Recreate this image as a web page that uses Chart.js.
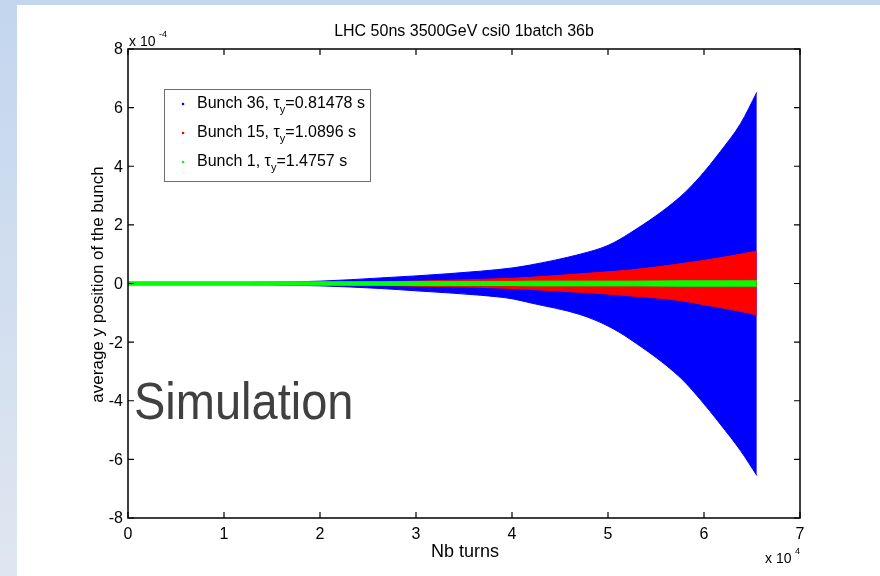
<!DOCTYPE html>
<html>
<head>
<meta charset="utf-8">
<script src="https://cdn.jsdelivr.net/npm/chart.js@4"></script>
<style>
  html, body { margin: 0; padding: 0; background: #ffffff; }
  #wrap { width: 880px; height: 576px; }
</style>
</head>
<body>
<div id="wrap"><canvas id="chart-env" width="880" height="576"></canvas></div>
<script>
var turns = [0, 10000, 20000, 26300, 30000, 36700, 40000, 41900, 47100, 50000, 52300, 57500, 59600, 61700, 63800, 65500];

// average y position, in units of 1e-4
var blueUpper  = [0.02, 0.03, 0.08, 0.19, 0.26, 0.42, 0.53, 0.63, 1.00, 1.30, 1.72, 2.95, 3.65, 4.50, 5.45, 6.52];
var blueLower  = [-0.02, -0.03, -0.08, -0.17, -0.25, -0.40, -0.52, -0.66, -1.06, -1.45, -1.90, -3.20, -3.95, -4.80, -5.70, -6.55];
var redUpper   = [0.03, 0.03, 0.04, 0.06, 0.08, 0.14, 0.18, 0.21, 0.33, 0.40, 0.46, 0.67, 0.77, 0.88, 1.00, 1.11];
var redLower   = [-0.03, -0.03, -0.04, -0.07, -0.09, -0.13, -0.17, -0.20, -0.30, -0.36, -0.42, -0.58, -0.70, -0.82, -0.95, -1.07];
var greenUpper = [0.06, 0.06, 0.06, 0.06, 0.07, 0.07, 0.07, 0.08, 0.08, 0.08, 0.08, 0.09, 0.09, 0.09, 0.09, 0.09];
var greenLower = [-0.06, -0.06, -0.06, -0.06, -0.07, -0.07, -0.07, -0.08, -0.08, -0.08, -0.08, -0.09, -0.09, -0.09, -0.09, -0.09];

var xTicks = [0, 10000, 20000, 30000, 40000, 50000, 60000, 70000];
var xTickLabels = ["0", "1", "2", "3", "4", "5", "6", "7"];
var yTicks = [-8, -6, -4, -2, 0, 2, 4, 6, 8];
var yTickLabels = ["-8", "-6", "-4", "-2", "0", "2", "4", "6", "8"];

var bunches = ["Bunch 36, ", "Bunch 15, ", "Bunch 1, "];
var tauValues = ["=0.81478 s", "=1.0896 s", "=1.4757 s"];
var colors = ["#0000ff", "#ff0000", "#00ff00"];

function pts(ys) {
  return turns.map(function(t, i) { return {x: t, y: ys[i]}; });
}

function band(ys, color, fill, order) {
  return {
    data: pts(ys),
    borderColor: color,
    backgroundColor: color,
    borderWidth: 1,
    pointRadius: 0,
    cubicInterpolationMode: "monotone",
    fill: fill,
    order: order
  };
}

var FONT = '"Liberation Sans", Arial, Helvetica, sans-serif';

var decor = {
  id: "decor",
  beforeDraw: function(chart) {
    var c = chart.ctx;
    c.save();
    var g = c.createLinearGradient(0, 0, 0, 576);
    g.addColorStop(0, "#c3d6ee");
    g.addColorStop(1, "#dfe6f0");
    c.fillStyle = g;
    c.fillRect(0, 0, 880, 576);
    c.fillStyle = "#ffffff";
    c.fillRect(17, 5, 863, 571);
    c.restore();
  },
  afterDraw: function(chart) {
    var c = chart.ctx;
    var a = chart.chartArea;
    var xs = chart.scales.x, ys = chart.scales.y;
    c.save();

    // frame
    c.strokeStyle = "#000000";
    c.lineWidth = 1.5;
    c.strokeRect(a.left, a.top, a.right - a.left, a.bottom - a.top);

    // inward ticks + labels
    c.fillStyle = "#000000";
    c.font = "16px " + FONT;
    c.lineWidth = 1.2;
    c.textAlign = "center";
    c.textBaseline = "top";
    xTicks.forEach(function(v, i) {
      var px = xs.getPixelForValue(v);
      c.beginPath();
      c.moveTo(px, a.bottom); c.lineTo(px, a.bottom - 6);
      c.moveTo(px, a.top); c.lineTo(px, a.top + 6);
      c.stroke();
      c.fillText(xTickLabels[i], px, a.bottom + 9);
    });
    c.textAlign = "right";
    c.textBaseline = "middle";
    yTicks.forEach(function(v, i) {
      var py = ys.getPixelForValue(v);
      c.beginPath();
      c.moveTo(a.left, py); c.lineTo(a.left + 6, py);
      c.moveTo(a.right, py); c.lineTo(a.right - 6, py);
      c.stroke();
      c.fillText(yTickLabels[i], a.left - 5, py + 1);
    });

    // exponents
    c.textAlign = "left";
    c.textBaseline = "alphabetic";
    c.font = "14px " + FONT;
    c.fillText("x 10", a.left + 1, a.top - 3);
    c.fillText("x 10", a.right - 35, a.bottom + 45);
    c.font = "9px " + FONT;
    c.fillText("-4", a.left + 31, a.top - 12);
    c.fillText("4", a.right - 5, a.bottom + 36);

    // title and axis titles
    c.textAlign = "center";
    c.font = "16px " + FONT;
    c.fillText("LHC 50ns 3500GeV csi0 1batch 36b", (a.left + a.right) / 2, 36);
    c.font = "18px " + FONT;
    c.fillText("Nb turns", (a.left + a.right) / 2 + 1, a.bottom + 39);
    c.save();
    c.translate(103, (a.top + a.bottom) / 2 + 1);
    c.rotate(-Math.PI / 2);
    c.font = "17px " + FONT;
    c.fillText("average y position of the bunch", 0, 0);
    c.restore();

    // legend
    c.fillStyle = "#ffffff";
    c.fillRect(164, 89, 206, 92);
    c.strokeStyle = "#6f6f6f";
    c.lineWidth = 1;
    c.strokeRect(164.5, 89.5, 206, 92);
    var rows = [108, 137, 166];
    bunches.forEach(function(b, i) {
      var y = rows[i];
      c.fillStyle = colors[i];
      c.beginPath();
      c.arc(183, y - 4, 1.3, 0, Math.PI * 2);
      c.fill();
      c.fillStyle = "#000000";
      c.font = "16px " + FONT;
      c.textAlign = "left";
      var x = 197;
      c.fillText(b, x, y);
      x += c.measureText(b).width;
      c.fillText("\u03c4", x, y);
      x += c.measureText("\u03c4").width;
      c.font = "11px " + FONT;
      c.fillText("y", x, y + 5);
      x += c.measureText("y").width;
      c.font = "16px " + FONT;
      c.fillText(tauValues[i], x, y);
    });

    // overlay label
    c.save();
    c.fillStyle = "#404040";
    c.font = "47px " + FONT;
    c.textAlign = "left";
    c.translate(134, 419);
    c.scale(1, 1.12);
    c.fillText("Simulation", 0, 0);
    c.restore();

    c.restore();
  }
};

(function() {
  var canvas = document.getElementById("chart-env");
  var ctx = canvas.getContext("2d");

  var chart = new Chart(ctx, {
    type: "line",
    plugins: [decor],
    data: {
      datasets: [
        band(greenUpper, colors[2], "+1", 1),
        band(greenLower, colors[2], false, 1),
        band(redUpper, colors[1], "+1", 2),
        band(redLower, colors[1], false, 2),
        band(blueUpper, colors[0], "+1", 3),
        band(blueLower, colors[0], false, 3)
      ]
    },
    options: {
      responsive: false,
      animation: false,
      layout: {
        padding: {left: 128, top: 49, right: 80, bottom: 58}
      },
      plugins: {
        legend: {display: false},
        tooltip: {enabled: false},
        filler: {propagate: false}
      },
      scales: {
        x: {type: "linear", min: 0, max: 70000, display: false},
        y: {type: "linear", min: -8, max: 8, display: false}
      }
    }
  });
})();
</script>
</body>
</html>
